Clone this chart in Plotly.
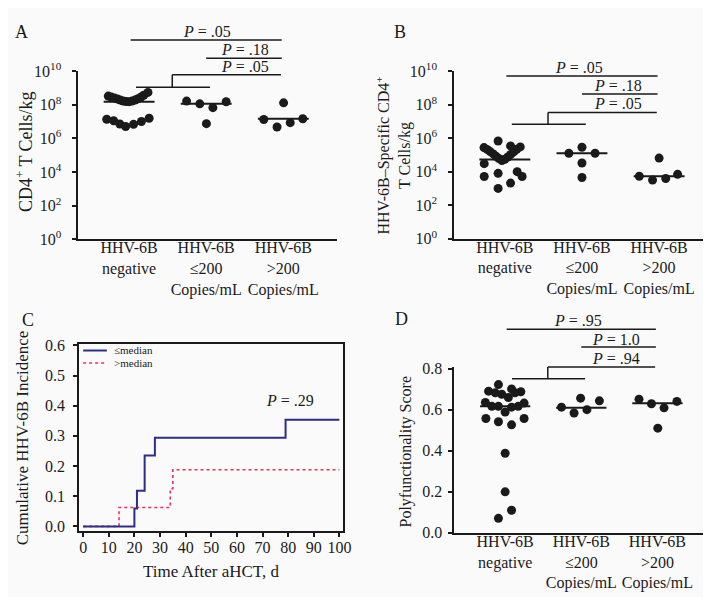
import plotly.graph_objects as go

W, H = 711, 597
FONT = "Liberation Serif, Times New Roman, serif"
INK = "#1a1a1a"
BG = "#fafafa"
BLUE = "#2e2d88"
RED = "#e8315b"

# ---------------- data ----------------
group_labels = ["HHV-6B<br>negative", "HHV-6B<br>≤200<br>Copies/mL", "HHV-6B<br>>200<br>Copies/mL"]
group_pos = [1, 2, 3]
log_tick_values = [1, 1e2, 1e4, 1e6, 1e8, 1e10]
log_tick_labels = ["10<sup>0</sup>", "10<sup>2</sup>", "10<sup>4</sup>", "10<sup>6</sup>", "10<sup>8</sup>", "10<sup>10</sup>"]

# Panel A: CD4+ T cells/kg (log10 values)
a_negative_log10 = [8.52, 8.46, 8.40, 8.34, 8.28, 8.23, 8.20, 8.19, 8.22, 8.28, 8.36, 8.46, 8.57, 8.74,
                    7.14, 7.05, 6.86, 6.71, 6.84, 7.01, 7.20]
a_le200_log10 = [8.22, 8.06, 7.83, 8.18, 6.88]
a_gt200_log10 = [7.13, 6.68, 8.12, 6.94, 7.17]
a_median_log10 = [8.19, 8.06, 7.17]

# Panel B: HHV-6B-specific CD4+ T cells/kg (log10 values)
b_negative_log10 = [5.44, 5.33, 5.20, 5.06, 4.92, 4.79, 4.67, 4.74, 4.88, 5.03, 5.18, 5.34, 5.48,
                    5.83, 5.54, 4.48, 3.71, 3.90, 3.00, 3.32, 4.00, 3.71]
b_le200_log10 = [5.10, 5.46, 5.10, 4.52, 3.65]
b_gt200_log10 = [3.73, 3.50, 4.81, 3.59, 3.84]
b_median_log10 = [4.73, 5.10, 3.73]

# Panel C: cumulative HHV-6B incidence (step curves)
le_median_days = [0, 20, 21, 24, 28, 79, 100]
le_median_inc = [0.0, 0.059, 0.118, 0.235, 0.294, 0.353, 0.353]
gt_median_days = [0, 14, 34, 35, 100]
gt_median_inc = [0.0, 0.0625, 0.125, 0.1875, 0.1875]
c_x_ticks = [0, 10, 20, 30, 40, 50, 60, 70, 80, 90, 100]

# Panel D: polyfunctionality score
d_negative = [0.722, 0.690, 0.682, 0.675, 0.659, 0.701, 0.682, 0.687, 0.635, 0.616, 0.616, 0.588,
              0.612, 0.616, 0.632, 0.557, 0.541, 0.526, 0.557, 0.388, 0.200, 0.110, 0.071]
d_le200 = [0.612, 0.584, 0.656, 0.600, 0.643]
d_gt200 = [0.651, 0.629, 0.609, 0.640, 0.510]
d_median = [0.616, 0.609, 0.631]

# horizontal spread of the dots inside each category (category units)
a_negative_spread = [-0.27, -0.23, -0.19, -0.15, -0.115, -0.077, -0.038, 0.0, 0.038, 0.077, 0.115, 0.154, 0.19, 0.245,
                     -0.29, -0.2, -0.12, -0.045, 0.058, 0.16, 0.26]
a_le200_spread = [-0.254, -0.083, 0.087, 0.259, 0.003]
a_gt200_spread = [-0.253, -0.081, 0.004, 0.09, 0.253]
b_negative_spread = [-0.27, -0.23, -0.19, -0.15, -0.115, -0.077, -0.038, 0.0, 0.038, 0.077, 0.115, 0.154, 0.2,
                     -0.087, 0.074, -0.267, -0.267, -0.087, -0.087, 0.074, 0.16, 0.224]
b_le200_spread = [-0.17, 0.0, 0.17, 0.0, 0.0]
b_gt200_spread = [-0.257, -0.085, 0.0, 0.086, 0.24]
d_negative_spread = [-0.088, -0.218, -0.13, -0.045, 0.042, 0.084, 0.129, 0.206, -0.26, -0.175, -0.088, 0.0,
                     0.084, 0.171, 0.249, -0.253, -0.088, 0.084, 0.249, 0.0, 0.0, 0.084, -0.088]
d_le200_spread = [-0.26, -0.095, -0.009, 0.074, 0.238]
d_gt200_spread = [-0.242, -0.078, 0.087, 0.256, 0.005]


def px_x(p):
    return p / W


def px_y(p):
    return (H - p) / H


fig = go.Figure()

MED_HALF = 0.33


def add_dots(values, spreads, medians, xa, ya, log=False):
    for g, vals, spr, med in zip(group_pos, values, spreads, medians):
        yv = [10 ** v for v in vals] if log else list(vals)
        fig.add_trace(go.Scatter(
            x=[g + s for s in spr], y=yv, mode="markers",
            marker=dict(size=9, color=INK, line=dict(width=0)),
            xaxis=xa, yaxis=ya, showlegend=False, cliponaxis=False, hoverinfo="skip"))
        my = 10 ** med if log else med
        fig.add_trace(go.Scatter(
            x=[g - MED_HALF, g + MED_HALF], y=[my, my], mode="lines",
            line=dict(color=INK, width=2), xaxis=xa, yaxis=ya, showlegend=False,
            cliponaxis=False, hoverinfo="skip"))


add_dots([a_negative_log10, a_le200_log10, a_gt200_log10],
         [a_negative_spread, a_le200_spread, a_gt200_spread], a_median_log10, "x", "y", log=True)
add_dots([b_negative_log10, b_le200_log10, b_gt200_log10],
         [b_negative_spread, b_le200_spread, b_gt200_spread], b_median_log10, "x2", "y2", log=True)
add_dots([d_negative, d_le200, d_gt200],
         [d_negative_spread, d_le200_spread, d_gt200_spread], d_median, "x4", "y4", log=False)

# Panel C curves
fig.add_trace(go.Scatter(x=gt_median_days, y=gt_median_inc, mode="lines", line_shape="hv",
                         line=dict(color=RED, width=1.6, dash="dot"), xaxis="x3", yaxis="y3",
                         showlegend=False, hoverinfo="skip", name=">median"))
fig.add_trace(go.Scatter(x=le_median_days, y=le_median_inc, mode="lines", line_shape="hv",
                         line=dict(color=BLUE, width=2), xaxis="x3", yaxis="y3",
                         showlegend=False, hoverinfo="skip", name="≤median"))

axis_common = dict(showline=True, linecolor=INK, linewidth=1.5, showgrid=False, zeroline=False,
                   tickfont=dict(family=FONT, size=16, color=INK), tickcolor=INK, tickwidth=1.5)

cat_x = dict(axis_common, tickmode="array", tickvals=group_pos, ticktext=group_labels, ticks="",
             ticklabelstandoff=-7)
log_y = dict(axis_common, type="log", range=[0, 10], tickmode="array", tickvals=log_tick_values,
             ticktext=log_tick_labels, ticks="outside", ticklen=4, ticklabelstandoff=8)

fig.update_layout(
    width=W, height=H, margin=dict(l=0, r=0, t=0, b=0),
    paper_bgcolor=BG, plot_bgcolor=BG,
    font=dict(family=FONT, size=16, color=INK),
    xaxis=dict(cat_x, domain=[px_x(71), px_x(333)], range=[0.34, 3.70], anchor="y"),
    yaxis=dict(log_y, domain=[px_y(228), px_y(54)], anchor="x"),
    xaxis2=dict(cat_x, domain=[px_x(451), px_x(710)], range=[0.34, 3.66], anchor="y2"),
    yaxis2=dict(log_y, domain=[px_y(227.3), px_y(54)], anchor="x2"),
    xaxis3=dict(axis_common, domain=[px_x(71.7), px_x(339.3)], range=[-1.66, 101.6], anchor="y3",
                tickmode="array", tickvals=c_x_ticks, ticks="outside", ticklen=4, mirror=True,
                ticklabelstandoff=-3),
    yaxis3=dict(axis_common, domain=[px_y(530), px_y(336.7)], range=[-0.016, 0.603], anchor="x3",
                dtick=0.1, tick0=0, tickformat=".1f", ticks="outside", ticklen=4, mirror=True,
                ticklabelstandoff=5),
    xaxis4=dict(cat_x, domain=[px_x(451.3), px_x(706.7)], range=[0.331, 3.648], anchor="y4"),
    yaxis4=dict(axis_common, domain=[px_y(531.7), px_y(360)], range=[0, 0.808], anchor="x4",
                dtick=0.2, tick0=0, tickformat=".1f", ticks="outside", ticklen=4, ticklabelstandoff=3),
)

shapes = []


def seg(xref, x0, x1, y0, y1):
    shapes.append(dict(type="line", xref=xref, yref="paper", x0=x0, x1=x1,
                       y0=px_y(y0), y1=px_y(y1), line=dict(color=INK, width=1.5)))


def brackets(xref, y_top, y_mid, y_low, y_fork):
    seg(xref, 1.02, 2.98, y_top, y_top)
    seg(xref, 2.0, 2.98, y_mid, y_mid)
    seg(xref, 1.56, 2.97, y_low, y_low)
    seg(xref, 1.56, 1.56, y_low, y_fork)
    seg(xref, 1.09, 2.05, y_fork, y_fork)


brackets("x", 21.7, 40.7, 57.7, 70.7)
brackets("x2", 59, 77.7, 96.7, 109)
brackets("x4", 321, 339.3, 360, 372.3)

# legend of panel C
shapes.append(dict(type="line", xref="paper", yref="paper", x0=px_x(76), x1=px_x(100),
                   y0=px_y(343), y1=px_y(343), line=dict(color=BLUE, width=2)))
shapes.append(dict(type="line", xref="paper", yref="paper", x0=px_x(76), x1=px_x(100),
                   y0=px_y(356), y1=px_y(356), line=dict(color=RED, width=1.6, dash="dot")))
fig.update_layout(shapes=shapes)

annotations = []


def text(x, y, s, size=16, angle=0, xanchor="center", pad=1):
    annotations.append(dict(x=px_x(x), y=px_y(y), xref="paper", yref="paper", text=s,
                            showarrow=False, textangle=angle, xanchor=xanchor, yanchor="middle",
                            borderpad=pad, font=dict(family=FONT, size=size, color=INK)))


# panel letters
text(14, 13, "A", 18)
text(396, 13, "B", 18)
text(20, 311, "C", 18)
text(398, 310, "D", 18)

# axis titles
text(16.7, 138, "CD4<sup>+</sup> T Cells/kg", 18, -90)
text(390, 141.7, "HHV-6B–Specific CD4<sup>+</sup><br>T Cells/kg", 16, -90)
text(15, 433, "Cumulative HHV-6B Incidence", 17, -90)
text(205, 571.7, "Time After aHCT, d", 17)
text(403, 447, "Polyfunctionality Score", 16, -90)

# P values
text(201.7, 13.3, "<i>P</i> = .05")
text(240, 31.7, "<i>P</i> = .18")
text(240, 49.3, "<i>P</i> = .05")
text(578, 50, "<i>P</i> = .05")
text(616.7, 68.3, "<i>P</i> = .18")
text(616.7, 87.3, "<i>P</i> = .05")
text(576.7, 311.7, "<i>P</i> = .95")
text(615, 331.7, "<i>P</i> = 1.0")
text(615, 351, "<i>P</i> = .94")
text(285, 394.3, "<i>P</i> = .29")

# legend text of panel C
text(106.7, 342.5, "≤median", 11, 0, "left", 0)
text(106.7, 356, ">median", 11, 0, "left", 0)

fig.update_layout(annotations=annotations)

fig.write_html("out.html")
